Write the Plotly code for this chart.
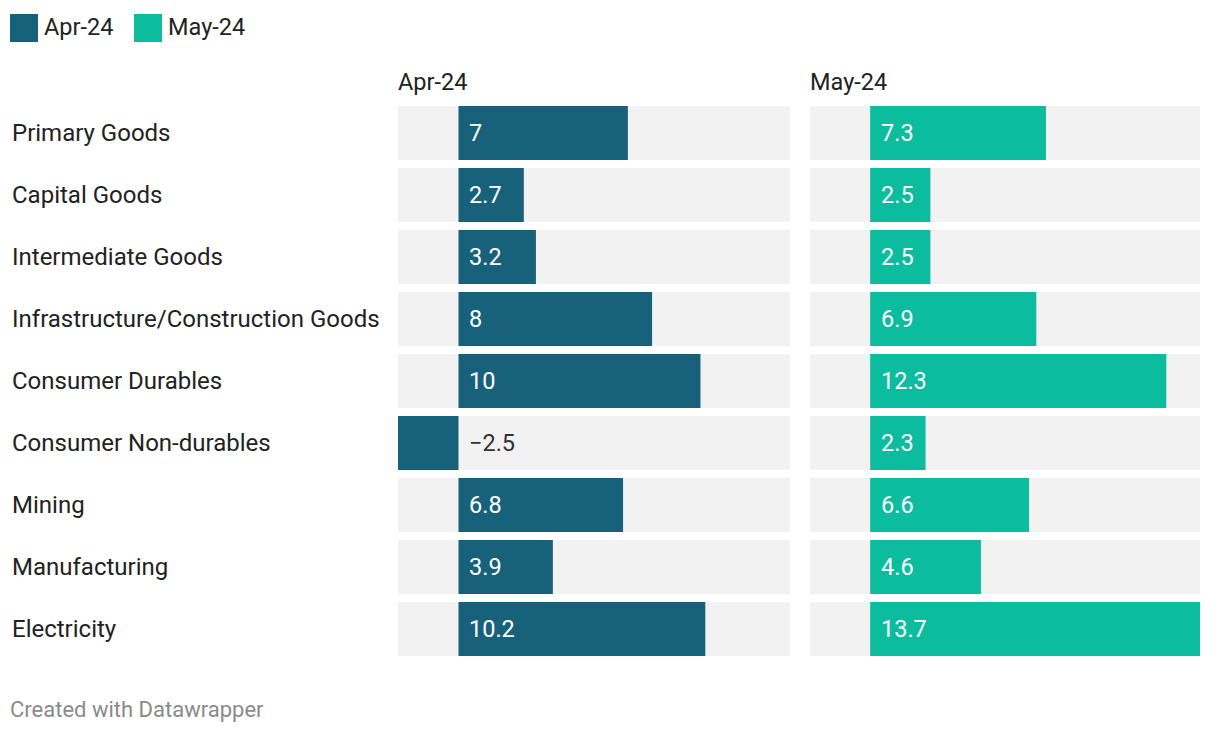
import plotly.graph_objects as go

categories = ["Primary Goods", "Capital Goods", "Intermediate Goods",
              "Infrastructure/Construction Goods", "Consumer Durables",
              "Consumer Non-durables", "Mining", "Manufacturing", "Electricity"]
apr_24 = [7, 2.7, 3.2, 8, 10, -2.5, 6.8, 3.9, 10.2]
may_24 = [7.3, 2.5, 2.5, 6.9, 12.3, 2.3, 6.6, 4.6, 13.7]
series_names = ["Apr-24", "May-24"]
colors = ["#18617b", "#0bbc9e"]

W, H = 1220, 734
OFF = 8  # page offset
XMIN, XMAX = -2.5, 13.7
FONT = "Roboto"
TEXT = "#222222"

def px_x(p):
    return (p - OFF) / W

def px_y(p):
    return 1 - (p - OFF) / H

fig = go.Figure()
series = [apr_24, may_24]
axes = [("x", "y"), ("x2", "y")]
for i, (vals, name, col) in enumerate(zip(series, series_names, colors)):
    xa, ya = axes[i]
    fig.add_trace(go.Bar(
        y=categories, x=[XMAX - XMIN] * len(categories), base=[XMIN] * len(categories),
        orientation="h", marker=dict(color="#f2f2f2", line=dict(width=0)),
        xaxis=xa, yaxis=ya, showlegend=False, hoverinfo="skip"))
    fig.add_trace(go.Bar(
        y=categories, x=vals, orientation="h", name=name,
        marker=dict(color=col, line=dict(width=0)),
        xaxis=xa, yaxis=ya, showlegend=False))
    xref = "x" if i == 0 else "x2"
    for c, v in zip(categories, vals):
        txt = f"{v:g}".replace("-", "\u2212")
        fig.add_annotation(x=0, y=c, xref=xref, yref="y", text=txt,
                           xanchor="left", xshift=9, showarrow=False,
                           font=dict(family=FONT, size=23.5,
                                     color="white" if v > 0 else "#333333"))

fig.update_layout(
    width=W, height=H, margin=dict(l=0, r=0, t=0, b=0),
    paper_bgcolor="white", plot_bgcolor="white",
    barmode="overlay", bargap=8 / 62,
    font=dict(family=FONT, color=TEXT),
    xaxis=dict(domain=[px_x(398), px_x(790)], range=[XMIN, XMAX],
               showgrid=False, zeroline=False, showticklabels=False, fixedrange=True),
    xaxis2=dict(domain=[px_x(810), px_x(1200)], range=[XMIN, XMAX],
                showgrid=False, zeroline=False, showticklabels=False, fixedrange=True),
    yaxis=dict(domain=[px_y(660), px_y(102)], autorange="reversed",
               showticklabels=False, showgrid=False, zeroline=False,
               categoryorder="array", categoryarray=categories),
)

# category labels
for c in categories:
    fig.add_annotation(x=px_x(12), y=c, xref="paper", yref="y", text=c,
                       xanchor="left", showarrow=False, xshift=-2,
                       font=dict(family=FONT, size=24, color=TEXT))

# panel titles
for name, xp in zip(series_names, [398, 810]):
    fig.add_annotation(x=px_x(xp), y=px_y(82), xref="paper", yref="paper",
                       text=name, xanchor="left", yanchor="middle", showarrow=False,
                       xshift=-2, font=dict(family=FONT, size=23.5, color=TEXT))

# legend
lx = [10, 134]
for name, col, x0 in zip(series_names, colors, lx):
    fig.add_shape(type="rect", xref="paper", yref="paper",
                  x0=px_x(x0), x1=px_x(x0 + 28), y0=px_y(42), y1=px_y(14),
                  fillcolor=col, line=dict(width=0))
    fig.add_annotation(x=px_x(x0 + 32), y=px_y(27), xref="paper", yref="paper",
                       text=name, xanchor="left", yanchor="middle", showarrow=False,
                       font=dict(family=FONT, size=23.5, color=TEXT))

# footer
fig.add_annotation(x=px_x(8), y=px_y(709), xref="paper", yref="paper",
                   text="Created with Datawrapper", xanchor="left", yanchor="middle",
                   showarrow=False, font=dict(family=FONT, size=22, color="#8a8a8a"))

fig.write_html("out.html")
